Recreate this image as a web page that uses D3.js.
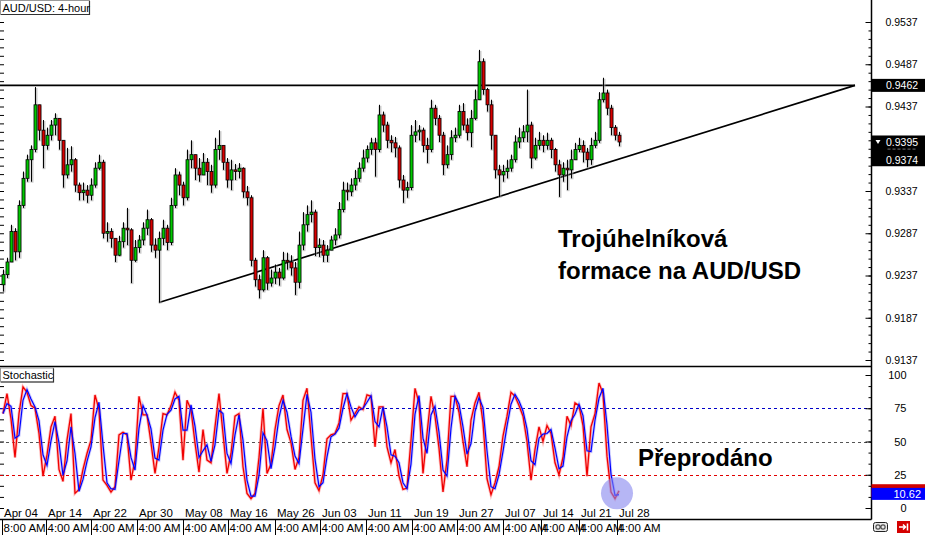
<!DOCTYPE html>
<html><head><meta charset="utf-8">
<script src="https://cdn.jsdelivr.net/npm/d3@7"></script>
<style>
body{margin:0;background:#fff;}
svg{display:block;font-family:"Liberation Sans",Arial,sans-serif;}
</style></head><body>
<svg id="c" width="925" height="535"></svg>
<script>
// ---------- DATA ----------
const firstOpen = 0.9226;
const closes = [
0.9238,0.9253,0.9289,0.9265,0.9320,0.9352,0.9374,0.9386,0.9439,0.9409,
0.9391,0.9403,0.9415,0.9423,0.9397,0.9356,0.9368,0.9374,0.9344,0.9335,
0.9338,0.9332,0.9344,0.9364,0.9371,0.9287,0.9289,0.9281,0.9261,0.9277,
0.9293,0.9291,0.9255,0.9270,0.9279,0.9293,0.9303,0.9273,0.9267,0.9281,
0.9293,0.9276,0.9320,0.9356,0.9344,0.9329,0.9374,0.9380,0.9364,0.9356,
0.9371,0.9360,0.9344,0.9386,0.9391,0.9371,0.9350,0.9362,0.9360,0.9364,
0.9336,0.9329,0.9255,0.9232,0.9220,0.9258,0.9228,0.9234,0.9241,0.9234,
0.9255,0.9253,0.9246,0.9229,0.9273,0.9297,0.9309,0.9312,0.9270,0.9273,
0.9261,0.9267,0.9279,0.9285,0.9315,0.9338,0.9336,0.9344,0.9352,0.9364,
0.9376,0.9386,0.9394,0.9386,0.9427,0.9415,0.9397,0.9394,0.9388,0.9350,
0.9338,0.9341,0.9403,0.9407,0.9409,0.9391,0.9386,0.9435,0.9423,0.9403,
0.9368,0.9380,0.9400,0.9403,0.9431,0.9415,0.9406,0.9423,0.9445,0.9490,
0.9457,0.9439,0.9403,0.9362,0.9356,0.9360,0.9364,0.9374,0.9395,0.9400,
0.9407,0.9415,0.9376,0.9391,0.9397,0.9391,0.9397,0.9386,0.9368,0.9356,
0.9364,0.9362,0.9374,0.9386,0.9391,0.9383,0.9374,0.9391,0.9397,0.9445,
0.9453,0.9435,0.9412,0.9403,0.9395];
const highs = [
0.9244,0.9258,0.9297,0.9293,0.9326,0.9360,0.9380,0.9391,0.9460,0.9439,
0.9421,0.9412,0.9421,0.9429,0.9415,0.9397,0.9388,0.9390,0.9376,0.9347,
0.9347,0.9344,0.9352,0.9371,0.9380,0.9374,0.9300,0.9293,0.9281,0.9284,
0.9300,0.9317,0.9293,0.9279,0.9285,0.9300,0.9315,0.9305,0.9281,0.9289,
0.9303,0.9297,0.9329,0.9364,0.9360,0.9348,0.9386,0.9397,0.9380,0.9376,
0.9382,0.9376,0.9368,0.9400,0.9409,0.9391,0.9376,0.9374,0.9369,0.9370,
0.9365,0.9343,0.9332,0.9258,0.9238,0.9267,0.9260,0.9244,0.9250,0.9246,
0.9265,0.9264,0.9261,0.9253,0.9289,0.9312,0.9320,0.9326,0.9315,0.9281,
0.9279,0.9273,0.9284,0.9293,0.9324,0.9348,0.9347,0.9352,0.9362,0.9371,
0.9386,0.9391,0.9400,0.9400,0.9439,0.9431,0.9419,0.9403,0.9401,0.9391,
0.9356,0.9348,0.9415,0.9421,0.9415,0.9412,0.9400,0.9445,0.9439,0.9427,
0.9407,0.9391,0.9409,0.9412,0.9439,0.9441,0.9423,0.9433,0.9457,0.9504,
0.9494,0.9459,0.9445,0.9403,0.9368,0.9368,0.9374,0.9380,0.9403,0.9412,
0.9415,0.9457,0.9419,0.9400,0.9407,0.9403,0.9406,0.9400,0.9388,0.9374,
0.9371,0.9374,0.9386,0.9394,0.9400,0.9397,0.9388,0.9400,0.9407,0.9454,
0.9471,0.9457,0.9439,0.9415,0.9407];
const lows = [
0.9218,0.9234,0.9253,0.9255,0.9258,0.9317,0.9348,0.9348,0.9383,0.9397,
0.9364,0.9386,0.9397,0.9403,0.9386,0.9341,0.9352,0.9360,0.9336,0.9326,
0.9326,0.9323,0.9326,0.9341,0.9362,0.9281,0.9277,0.9270,0.9253,0.9260,
0.9270,0.9273,0.9228,0.9253,0.9264,0.9273,0.9285,0.9265,0.9258,0.9205,
0.9273,0.9267,0.9273,0.9317,0.9332,0.9320,0.9326,0.9364,0.9350,0.9348,
0.9360,0.9344,0.9335,0.9341,0.9374,0.9362,0.9341,0.9338,0.9350,0.9352,
0.9329,0.9320,0.9248,0.9224,0.9210,0.9218,0.9220,0.9224,0.9227,0.9225,
0.9232,0.9244,0.9237,0.9214,0.9222,0.9267,0.9289,0.9300,0.9260,0.9259,
0.9253,0.9253,0.9267,0.9273,0.9281,0.9312,0.9326,0.9331,0.9338,0.9348,
0.9360,0.9371,0.9380,0.9354,0.9383,0.9407,0.9388,0.9383,0.9377,0.9341,
0.9323,0.9329,0.9338,0.9395,0.9397,0.9383,0.9370,0.9383,0.9415,0.9395,
0.9356,0.9364,0.9374,0.9395,0.9400,0.9409,0.9397,0.9389,0.9421,0.9445,
0.9451,0.9431,0.9386,0.9352,0.9330,0.9348,0.9352,0.9360,0.9371,0.9388,
0.9395,0.9395,0.9364,0.9374,0.9386,0.9383,0.9386,0.9376,0.9360,0.9330,
0.9348,0.9338,0.9352,0.9374,0.9383,0.9371,0.9365,0.9368,0.9388,0.9394,
0.9442,0.9427,0.9403,0.9397,0.9390];
const stochK = [
71,86,67,38,71,91,87,77,75,56,
24,40,61,69,29,20,51,71,11,14,
29,41,51,85,74,21,17,12,16,55,
57,55,21,36,84,70,70,49,26,46,
71,70,77,87,81,36,81,74,49,27,
59,36,34,61,86,56,26,41,69,71,
31,11,7,11,38,75,26,33,59,77,
85,59,49,29,38,81,90,54,19,13,
25,52,55,56,64,86,86,66,71,76,
74,85,84,46,76,76,46,34,44,24,
14,15,51,90,79,26,56,84,69,45,
12,36,84,84,72,50,31,66,79,87,
64,22,10,19,31,54,69,87,84,77,
69,50,21,44,61,50,62,56,34,25,
38,69,62,79,77,62,24,61,71,94,
86,39,12,7,13];
const priceTicks = [0.9137,0.9187,0.9237,0.9287,0.9337,0.9437,0.9487,0.9537];
const resistance = 0.9462;
const trendPoints = [{i:39, p:0.9205},{i:213, p:0.9462}];
const priceMarkers = [{p:0.9385, hidden:true},{p:0.9395, arrow:true},{p:0.9374},{p:0.9462}];
const stochTicks = [0,25,50,75,100];
const stochLevels = [{v:75,c:"#0000c8"},{v:50,c:"#555555"},{v:25,c:"#e00000"}];
const stochLast = 10.62;
const dateLabels = ["Apr 04","Apr 14","Apr 22","Apr 30","May 08","May 16","May 26","Jun 03","Jun 11","Jun 19","Jun 27","Jul 07","Jul 14","Jul 21","Jul 28"];
const datePos = [-0.25,10.75,22,33.5,45,56.25,68,79.25,90.75,102.25,113.5,125,134.5,144,153.5];
const timeLabels = ["8:00 AM","4:00 AM","4:00 AM","4:00 AM","4:00 AM","4:00 AM","4:00 AM","4:00 AM","4:00 AM","4:00 AM","4:00 AM","4:00 AM","4:00 AM","4:00 AM","4:00 AM"];
const highlight = {i:153.5, v:11};

// ---------- LAYOUT ----------
const svg = d3.select('#c');
const AX = 871.5, P_BOT = 366.5, S_BOT = 519.5;
const FONT = '"Liberation Sans",Arial,sans-serif';
const x = d3.scaleLinear().domain([0, closes.length-1]).range([3, 619]);
const yP = d3.scaleLinear().domain([0.9137, 0.9537]).range([360, 22]);
const yS = d3.scaleLinear().domain([0,100]).range([508,375]);

const defs = svg.append('defs');
defs.append('clipPath').attr('id','cp').append('rect').attr('x',0).attr('y',0).attr('width',871).attr('height',366);
defs.append('clipPath').attr('id','cs').append('rect').attr('x',0).attr('y',368).attr('width',871).attr('height',151);

// left edge ticks
svg.append('g').call(d3.axisRight(yP).tickValues(d3.range(9137,9538,10).map(v=>v/10000)).tickSize(4).tickFormat(''))
  .call(g=>g.select('.domain').remove()).selectAll('line').attr('stroke','#000');
svg.append('g').call(d3.axisRight(yS).tickValues(d3.range(0,101,25/3)).tickSize(4).tickFormat(''))
  .call(g=>g.select('.domain').remove()).selectAll('line').attr('stroke','#000');

// price panel
const gP = svg.append('g').attr('clip-path','url(#cp)');
gP.append('line').attr('x1',0).attr('x2',x(trendPoints[1].i))
  .attr('y1',yP(resistance)).attr('y2',yP(resistance)).attr('stroke','#000').attr('stroke-width',1.7);
gP.append('line').attr('x1',x(trendPoints[0].i)).attr('y1',yP(trendPoints[0].p))
  .attr('x2',x(trendPoints[1].i)).attr('y2',yP(trendPoints[1].p)).attr('stroke','#000').attr('stroke-width',1.7);

const candles = closes.map((c,i)=>{
  const o = i===0 ? firstOpen : closes[i-1];
  return {i, o, c, h: Math.max(highs[i],o,c), l: Math.min(lows[i],o,c)};
});
const cg = gP.append('g');
cg.selectAll('rect.sh').data(candles).join('rect').attr('class','sh')
  .attr('x',d=>x(d.i)-0.5).attr('width',3)
  .attr('y',d=>yP(d.h)+1).attr('height',d=>Math.max(1,yP(d.l)-yP(d.h)))
  .attr('fill','#a0a0a0').attr('opacity',0.55);
cg.selectAll('line.w').data(candles).join('line').attr('class','w')
  .attr('x1',d=>Math.round(x(d.i))+0.5).attr('x2',d=>Math.round(x(d.i))+0.5)
  .attr('y1',d=>yP(d.h)).attr('y2',d=>yP(d.l)).attr('stroke','#000').attr('stroke-width',1);
cg.selectAll('rect.b').data(candles).join('rect').attr('class','b')
  .attr('x',d=>Math.round(x(d.i))-1).attr('width',3)
  .attr('y',d=>yP(Math.max(d.o,d.c))).attr('height',d=>Math.max(1.5,Math.abs(yP(d.o)-yP(d.c))))
  .attr('fill',d=>d.c>=d.o?'#00c800':'#d80000').attr('stroke','#000').attr('stroke-width',0.8);

// annotation text
svg.append('text').attr('x',558).attr('y',247).attr('font-family',FONT).attr('font-weight','bold').attr('font-size',24).text('Trojúhelníková');
svg.append('text').attr('x',558).attr('y',279).attr('font-family',FONT).attr('font-weight','bold').attr('font-size',24).text('formace na AUD/USD');

// stochastic panel
const gS = svg.append('g').attr('clip-path','url(#cs)');
stochLevels.forEach(l=>{
  gS.append('line').attr('x1',0).attr('x2',871).attr('y1',Math.round(yS(l.v))+0.5).attr('y2',Math.round(yS(l.v))+0.5)
    .attr('stroke',l.c).attr('stroke-dasharray','3,3').attr('stroke-width',1);
});
const stochD = stochK.map((v,i)=>d3.mean(stochK.slice(Math.max(0,i-1),i+1)));
const line = d3.line().x((d,i)=>x(i)).y(d=>yS(d));
gS.append('path').datum(stochK).attr('d',line).attr('fill','none').attr('stroke','#ff7070').attr('stroke-width',3).attr('opacity',0.45);
gS.append('path').datum(stochD).attr('d',line).attr('fill','none').attr('stroke','#8080ff').attr('stroke-width',3).attr('opacity',0.4);
gS.append('path').datum(stochK).attr('d',line).attr('fill','none').attr('stroke','#f00000').attr('stroke-width',1.3);
gS.append('path').datum(stochD).attr('d',line).attr('fill','none').attr('stroke','#0000ff').attr('stroke-width',1.2);
gS.append('circle').attr('cx',x(highlight.i)).attr('cy',yS(highlight.v)).attr('r',16)
  .attr('fill','#8585ee').attr('opacity',0.6);
svg.append('text').attr('x',638).attr('y',466).attr('font-family',FONT).attr('font-weight','bold').attr('font-size',24).text('Přeprodáno');

// date labels in stochastic panel
svg.append('g').selectAll('text').data(dateLabels).join('text')
  .attr('x',(d,k)=>x(datePos[k])+2).attr('y',517).attr('font-family',FONT).attr('font-size',11.5).attr('fill','#000').text(d=>d);

// panel borders
svg.append('line').attr('x1',0).attr('x2',AX).attr('y1',P_BOT).attr('y2',P_BOT).attr('stroke','#000').attr('stroke-width',1.5);
svg.append('line').attr('x1',0).attr('x2',AX).attr('y1',S_BOT).attr('y2',S_BOT).attr('stroke','#000').attr('stroke-width',1.5);
svg.append('line').attr('x1',AX).attr('x2',AX).attr('y1',0).attr('y2',S_BOT).attr('stroke','#000').attr('stroke-width',1.5);

// bottom time row
const gT = svg.append('g');
gT.selectAll('text').data(timeLabels).join('text')
  .attr('x',(d,k)=>x(datePos[k])+1.5).attr('y',532).attr('font-family',FONT).attr('font-size',11.5).attr('fill','#000').text(d=>d);
gT.selectAll('line').data(datePos).join('line')
  .attr('x1',d=>Math.round(x(d))+0.5).attr('x2',d=>Math.round(x(d))+0.5).attr('y1',S_BOT).attr('y2',535)
  .attr('stroke','#000').attr('stroke-width',1);

// price axis
svg.append('g').attr('transform',`translate(${AX},0)`)
  .call(d3.axisRight(yP).tickValues(d3.range(9137,9538,10).map(v=>v/10000)).tickSize(-3).tickFormat(''))
  .call(g=>g.select('.domain').remove()).selectAll('line').attr('stroke','#000');
const axP = svg.append('g').attr('transform',`translate(${AX},0)`)
  .call(d3.axisRight(yP).tickValues(priceTicks).tickSizeInner(-6).tickSizeOuter(0).tickPadding(14).tickFormat(d3.format('.4f')))
  .call(g=>g.select('.domain').remove());
axP.attr('font-family',FONT).attr('font-size',10.5);
axP.selectAll('line').attr('stroke','#000');
axP.selectAll('text').attr('fill','#000');

// price markers (last label is partly hidden behind the next box, as in the terminal)
priceMarkers.forEach(m=>{
  const g = svg.append('g').attr('transform',`translate(${AX},${yP(m.p)})`);
  g.append('rect').attr('x',0).attr('y',-6.5).attr('width',925-AX).attr('height',13).attr('fill','#000');
  if(m.hidden){
    g.selectAll('rect.frag').data([16,21,26,31,36,41]).join('rect').attr('class','frag')
      .attr('x',d=>d).attr('y',-2).attr('width',3).attr('height',1).attr('fill','#999');
  } else {
    g.append('text').attr('x',14.5).attr('y',4).attr('font-family',FONT).attr('font-size',10.5).attr('fill','#fff').text(d3.format('.4f')(m.p));
  }
  if(m.arrow) g.append('path').attr('d','M4,-2 L9,-2 L6.5,2 Z').attr('fill','#fff');
});

// stochastic axis
svg.append('g').attr('transform',`translate(${AX},0)`)
  .call(d3.axisRight(yS).tickValues(d3.range(0,101,25/3)).tickSize(-3).tickFormat(''))
  .call(g=>g.select('.domain').remove()).selectAll('line').attr('stroke','#000');
const axS = svg.append('g').attr('transform',`translate(${AX},0)`)
  .call(d3.axisRight(yS).tickValues(stochTicks).tickSizeInner(-6).tickSizeOuter(0).tickPadding(35).tickFormat(d3.format('d')))
  .call(g=>g.select('.domain').remove());
axS.attr('font-family',FONT).attr('font-size',11);
axS.selectAll('line').attr('stroke','#000');
axS.selectAll('text').attr('text-anchor','end').attr('fill','#000');

// last stochastic values
const kLast = stochK[stochK.length-1];
svg.append('rect').attr('x',AX).attr('y',yS(kLast)-6.5).attr('width',925-AX).attr('height',13).attr('fill','#d00000');
svg.append('rect').attr('x',AX).attr('y',yS(stochLast)-6).attr('width',925-AX).attr('height',12).attr('fill','#0000ff');
svg.append('text').attr('x',921).attr('y',yS(stochLast)+4.5).attr('text-anchor','end').attr('font-family',FONT).attr('font-size',11).attr('fill','#fff').text(d3.format('.2f')(stochLast));

// title boxes
function label(xp,yp,w,t){
  const g = svg.append('g');
  g.append('rect').attr('x',xp+0.5).attr('y',yp+0.5).attr('width',w).attr('height',14).attr('fill','#fff').attr('stroke','#999');
  g.append('path').attr('d',`M${xp+w+0.5},${yp+1}V${yp+14.5}H${xp+1}`).attr('stroke','#333').attr('fill','none').attr('stroke-width',1.2);
  g.append('text').attr('x',xp+2.5).attr('y',yp+11.5).attr('font-family',FONT).attr('font-size',11).attr('fill','#000').text(t);
}
label(0,0,89,'AUD/USD: 4-hour');
label(0,367.5,53,'Stochastic');

// bottom-right icons
const ic = svg.append('g');
ic.append('rect').attr('x',873.5).attr('y',522.5).attr('width',14).attr('height',9).attr('rx',2).attr('fill','#e8e8e8').attr('stroke','#222');
ic.append('rect').attr('x',876).attr('y',525).attr('width',4).attr('height',4).attr('rx',1).attr('fill','none').attr('stroke','#222');
ic.append('rect').attr('x',881).attr('y',525).attr('width',4).attr('height',4).attr('rx',1).attr('fill','none').attr('stroke','#222');
ic.append('rect').attr('x',897).attr('y',521).attr('width',13).attr('height',12).attr('fill','#d40000');
ic.append('path').attr('d','M899,527H905M903,524.5L905.5,527L903,529.5M907.5,523.5V530.5').attr('stroke','#fff').attr('stroke-width',1.5).attr('fill','none');
</script>
</body></html>
